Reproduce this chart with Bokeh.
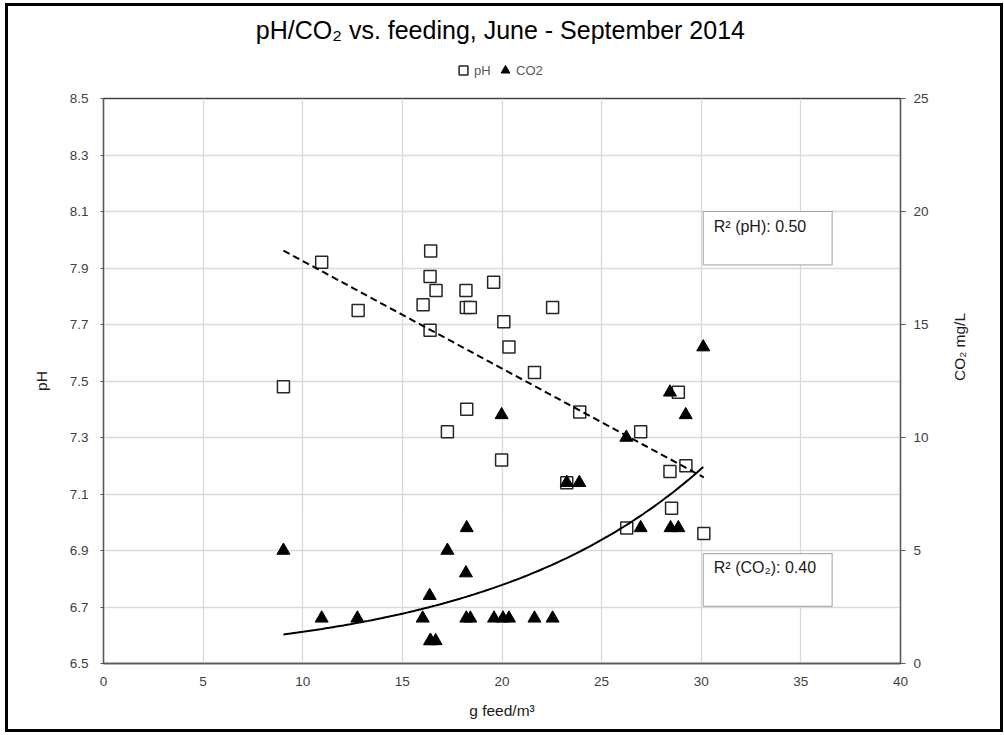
import math
import numpy as np
from bokeh.plotting import figure
from bokeh.layouts import column
from bokeh.models import (Range1d, LinearAxis, FixedTicker, Label, BoxAnnotation,
                          Legend, LegendItem)
from bokeh.embed import file_html
from bokeh.resources import INLINE

# ---- data ----
ph_feed = [9.03, 10.95, 12.78, 16.04, 16.39, 16.42, 16.39, 16.69, 17.26, 18.19,
           18.21, 18.41, 18.23, 19.58, 20.09, 20.35, 19.98, 21.63, 22.54, 23.25,
           23.90, 26.26, 26.96, 28.43, 28.51, 28.85, 29.23, 30.13]
ph_values = [7.48, 7.92, 7.75, 7.77, 7.87, 7.96, 7.68, 7.82, 7.32, 7.82,
             7.76, 7.76, 7.40, 7.85, 7.71, 7.62, 7.22, 7.53, 7.76, 7.14,
             7.39, 6.98, 7.32, 7.18, 7.05, 7.46, 7.20, 6.96]
co2_feed = [9.03, 10.95, 12.74, 16.02, 16.37, 16.39, 16.42, 16.67, 17.26, 18.19,
            18.23, 18.21, 18.41, 19.60, 20.05, 20.35, 19.98, 21.63, 22.54, 23.25,
            23.88, 26.24, 26.96, 28.46, 28.85, 28.43, 29.22, 30.10]
co2_values = [5, 2, 2, 2, 3, 1, 1, 1, 5, 4,
              6, 2, 2, 2, 2, 2, 11, 2, 2, 8,
              8, 10, 6, 6, 6, 12, 11, 14]
x_ticks = [0, 5, 10, 15, 20, 25, 30, 35, 40]
ph_ticks = [6.5, 6.7, 6.9, 7.1, 7.3, 7.5, 7.7, 7.9, 8.1, 8.3, 8.5]
co2_ticks = [0, 5, 10, 15, 20, 25]
series_names = ["pH", "CO2"]
title_text = "pH/CO\u2082 vs. feeding, June - September 2014"
r2_ph_text = "R\u00b2 (pH): 0.50"
r2_co2_text = "R\u00b2 (CO\u2082): 0.40"

# ---- trend lines fitted from the data (linear for pH, exponential for CO2) ----
ph_slope, ph_icpt = np.polyfit(ph_feed, ph_values, 1)
ph_tx = np.linspace(min(ph_feed), max(ph_feed), 50)
ph_ty = ph_icpt + ph_slope * ph_tx
co2_b, co2_lna = np.polyfit(co2_feed, np.log(co2_values), 1)
co2_tx = np.linspace(min(co2_feed), max(co2_feed), 120)
co2_ty = np.exp(co2_lna + co2_b * co2_tx)

FONT = "Liberation Sans"
TICK_COLOR = "#404040"
SQ = dict(marker="square", fill_color="white", line_color="#262626", line_width=1.5)
TRI = dict(marker="triangle", fill_color="black", line_color="black")

# ---- header strip: title + legend ----
HEAD_H = 80
head = figure(width=992, height=HEAD_H, x_range=Range1d(0, 992), y_range=Range1d(HEAD_H, 0),
              x_axis_type=None, y_axis_type=None, min_border=0,
              min_border_left=0, min_border_right=0, min_border_top=0, min_border_bottom=0,
              output_backend="svg", toolbar_location=None)
head.outline_line_color = None
head.background_fill_color = "white"
head.border_fill_color = "white"
head.add_layout(Label(x=494, y=23, text=title_text, text_font=FONT, text_font_size="25px",
                      text_color="black", text_align="center", text_baseline="alphabetic"))
# hidden proxies that only serve to draw the legend glyphs
leg_ph = head.scatter(ph_feed, ph_values, size=11, visible=False, **SQ)
leg_co2 = head.scatter(co2_feed, co2_values, size=12, visible=False, **TRI)
legend = Legend(items=[LegendItem(label=series_names[0], renderers=[leg_ph]),
                       LegendItem(label=series_names[1], renderers=[leg_co2])],
                orientation="horizontal", location=(349, 5),
                glyph_width=22, glyph_height=22, label_standoff=0, spacing=0,
                padding=0, margin=0, border_line_color=None, background_fill_alpha=0,
                label_text_font=FONT, label_text_font_size="13px", label_text_color="#595959")
head.add_layout(legend)

# ---- main chart ----
MAIN_H = 723 - HEAD_H
p = figure(width=992, height=MAIN_H, x_range=Range1d(0, 40), y_range=Range1d(6.5, 8.5),
           output_backend="svg", toolbar_location=None,
           min_border_left=95, min_border_right=100, min_border_top=92 - HEAD_H,
           min_border_bottom=66)
p.background_fill_color = "white"
p.border_fill_color = "white"
p.outline_line_color = "#404040"
p.outline_line_width = 1.3
p.extra_y_ranges = {"co2": Range1d(0, 25)}

p.xaxis.ticker = FixedTicker(ticks=x_ticks)
p.yaxis.ticker = FixedTicker(ticks=ph_ticks)
for ax in (p.xaxis[0], p.yaxis[0]):
    ax.axis_line_color = "#595959"
    ax.axis_line_width = 1.3
    ax.major_tick_line_color = "#595959"
    ax.minor_tick_line_color = None
    ax.major_label_text_font = FONT
    ax.major_label_text_font_size = "13.5px"
    ax.major_label_text_color = TICK_COLOR
    ax.axis_label_text_font = FONT
    ax.axis_label_text_font_style = "normal"
    ax.axis_label_text_font_size = "15.5px"
    ax.axis_label_text_color = "#1a1a1a"
p.xaxis.major_tick_out = 0
p.xaxis.major_tick_in = 0
p.xaxis.major_label_standoff = 13
p.xaxis.axis_label = "g feed/m\u00b3"
p.xaxis.axis_label_standoff = 13
p.yaxis.major_tick_out = 3
p.yaxis.major_tick_in = 0
p.yaxis.major_label_standoff = 12
p.yaxis.axis_label = "pH"
p.yaxis.axis_label_standoff = 17

rax = LinearAxis(y_range_name="co2", ticker=FixedTicker(ticks=co2_ticks))
rax.axis_line_color = "#595959"
rax.axis_line_width = 1.3
rax.major_tick_line_color = "#595959"
rax.major_tick_out = 5
rax.major_tick_in = 0
rax.minor_tick_line_color = None
rax.major_label_standoff = 8
rax.major_label_text_font = FONT
rax.major_label_text_font_size = "13.5px"
rax.major_label_text_color = TICK_COLOR
rax.axis_label = "CO\u2082 mg/L"
rax.axis_label_orientation = math.pi / 2
rax.axis_label_text_font = FONT
rax.axis_label_text_font_style = "normal"
rax.axis_label_text_font_size = "15.5px"
rax.axis_label_text_color = "#1a1a1a"
rax.axis_label_standoff = 28
p.add_layout(rax, "right")

p.xgrid.grid_line_color = "#d9d9d9"
p.ygrid.grid_line_color = "#d9d9d9"
p.xgrid.grid_line_width = 1.3
p.ygrid.grid_line_width = 1.3

r_ph = p.scatter(ph_feed, ph_values, size=12, **SQ)
r_co2 = p.scatter(co2_feed, co2_values, size=13, y_range_name="co2", **TRI)
p.line(ph_tx, ph_ty, line_color="black", line_width=2, line_dash="7 4")
p.line(co2_tx, co2_ty, line_color="black", line_width=2, y_range_name="co2")

p.add_layout(BoxAnnotation(left=30.10, right=36.57, top=8.10, bottom=7.911,
                           fill_color="white", fill_alpha=1, line_color="black", line_width=1.2))
p.add_layout(BoxAnnotation(left=30.10, right=36.57, top=6.889, bottom=6.702,
                           fill_color="white", fill_alpha=1, line_color="black", line_width=1.2))
p.add_layout(Label(x=30.63, y=8.046, text=r2_ph_text, text_font=FONT, text_font_size="16px",
                   text_color="#1a1a1a", text_baseline="alphabetic"))
p.add_layout(Label(x=30.63, y=6.839, text=r2_co2_text, text_font=FONT, text_font_size="16px",
                   text_color="#1a1a1a", text_baseline="alphabetic"))

layout = column(head, p, spacing=0)
layout.styles = {"border": "3px solid black"}
layout.margin = (3, 0, 0, 5)

open("out.html", "w").write(file_html(layout, INLINE))
